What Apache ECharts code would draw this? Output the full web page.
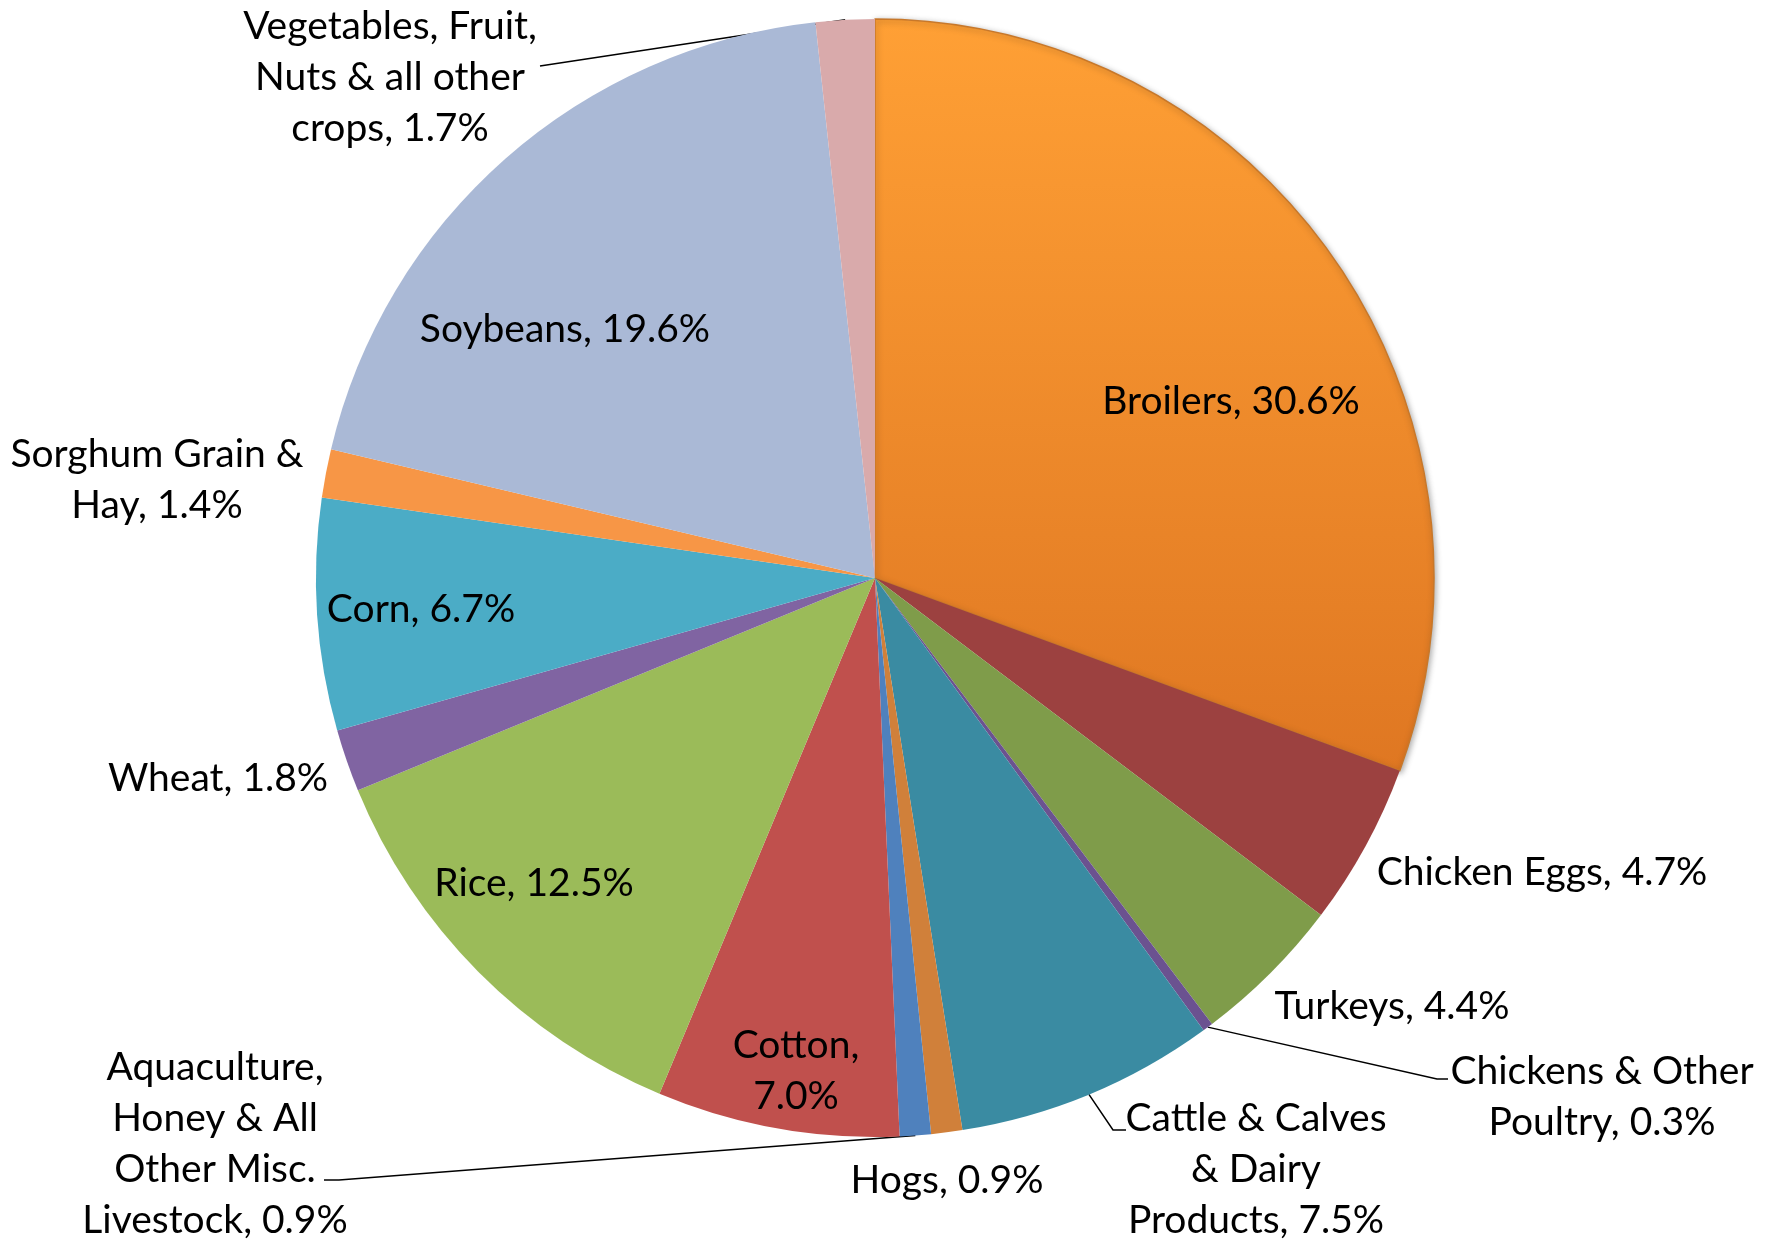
<!DOCTYPE html>
<html><head><meta charset="utf-8">
<script src="https://cdn.jsdelivr.net/npm/echarts@6/dist/echarts.min.js"></script>
<style>html,body{margin:0;padding:0;background:#fff}#chart{width:1771px;height:1242px}</style>
</head><body><div id="chart"></div>
<script>
const categories = ['Broilers','Chicken Eggs','Turkeys','Chickens & Other Poultry','Cattle & Calves & Dairy Products','Hogs','Aquaculture, Honey & All Other Misc. Livestock','Cotton','Rice','Wheat','Corn','Sorghum Grain & Hay','Soybeans','Vegetables, Fruit, Nuts & all other crops'];
const shares = [30.6, 4.7, 4.4, 0.3, 7.5, 0.9, 0.9, 7.0, 12.5, 1.8, 6.7, 1.4, 19.6, 1.7];
const labelTexts = [
  'Broilers, 30.6%',
  'Chicken Eggs, 4.7%',
  'Turkeys, 4.4%',
  'Chickens & Other\nPoultry, 0.3%',
  'Cattle & Calves\n& Dairy\nProducts, 7.5%',
  'Hogs, 0.9%',
  'Aquaculture,\nHoney & All\nOther Misc.\nLivestock, 0.9%',
  'Cotton,\n7.0%',
  'Rice, 12.5%',
  'Wheat, 1.8%',
  'Corn, 6.7%',
  'Sorghum Grain &\nHay, 1.4%',
  'Soybeans, 19.6%',
  'Vegetables, Fruit,\nNuts & all other\ncrops, 1.7%'
];
const colors = ['#F7922E','#9C4140','#7F9C4A','#6B5290','#3A8BA2','#D0803A','#4F81BD','#C0504D','#9BBB59','#8064A2','#4BACC6','#F79646','#AAB9D6','#D9AAAB'];

// label anchor positions (layout only)
const labelPos = [[1231,401],[1542,872],[1392,1006],[1602,1097],[1256,1169],[947,1180],[215,1144],[796,1071],[534,883],[218,778],[421,609],[157,480],[565,329],[390,77]];
// leader line waypoints after the slice edge point
const leaderPts = {
  3: [[1437,1079],[1448,1079]],
  4: [[1113,1130],[1126,1130]],
  6: [[339,1180],[324,1180]],
  13: [[540,66],[540,66]]
};

const chart = echarts.init(document.getElementById('chart'));
const data = categories.map((c, i) => {
  const item = {
    name: c,
    value: shares[i],
    itemStyle: { color: colors[i] },
    label: { formatter: labelTexts[i] },
    labelLine: { show: !!leaderPts[i] }
  };
  if (i === 0) {
    item.itemStyle = {
      color: new echarts.graphic.LinearGradient(0, 0, 0, 1, [
        { offset: 0, color: '#FFA035' },
        { offset: 1, color: '#DF7722' }
      ]),
      borderColor: '#C8782A',
      borderWidth: 1.5,
      shadowColor: 'rgba(0,0,0,0.35)',
      shadowBlur: 6,
      shadowOffsetX: 1,
      shadowOffsetY: 2
    };
  }
  return item;
});

chart.setOption({
  backgroundColor: '#ffffff',
  animation: false,
  series: [{
    type: 'pie',
    center: [875, 578],
    radius: 559,
    startAngle: 90,
    clockwise: true,
    avoidLabelOverlap: false,
    data: data,
    label: {
      show: true,
      position: 'outside',
      color: '#000',
      fontFamily: 'Lato',
      fontSize: 39,
      lineHeight: 51,
      align: 'center'
    },
    labelLine: {
      show: false,
      smooth: false,
      lineStyle: { color: '#000', width: 1.5 }
    },
    labelLayout: function (params) {
      const i = params.dataIndex;
      const p = labelPos[i];
      const out = { x: p[0], y: p[1], align: 'center', verticalAlign: 'middle' };
      if (leaderPts[i] && params.labelLinePoints) {
        const s = params.labelLinePoints[0];
        out.labelLinePoints = [[s[0], s[1]], leaderPts[i][0], leaderPts[i][1]];
      }
      return out;
    }
  }]
});
</script>
</body></html>
